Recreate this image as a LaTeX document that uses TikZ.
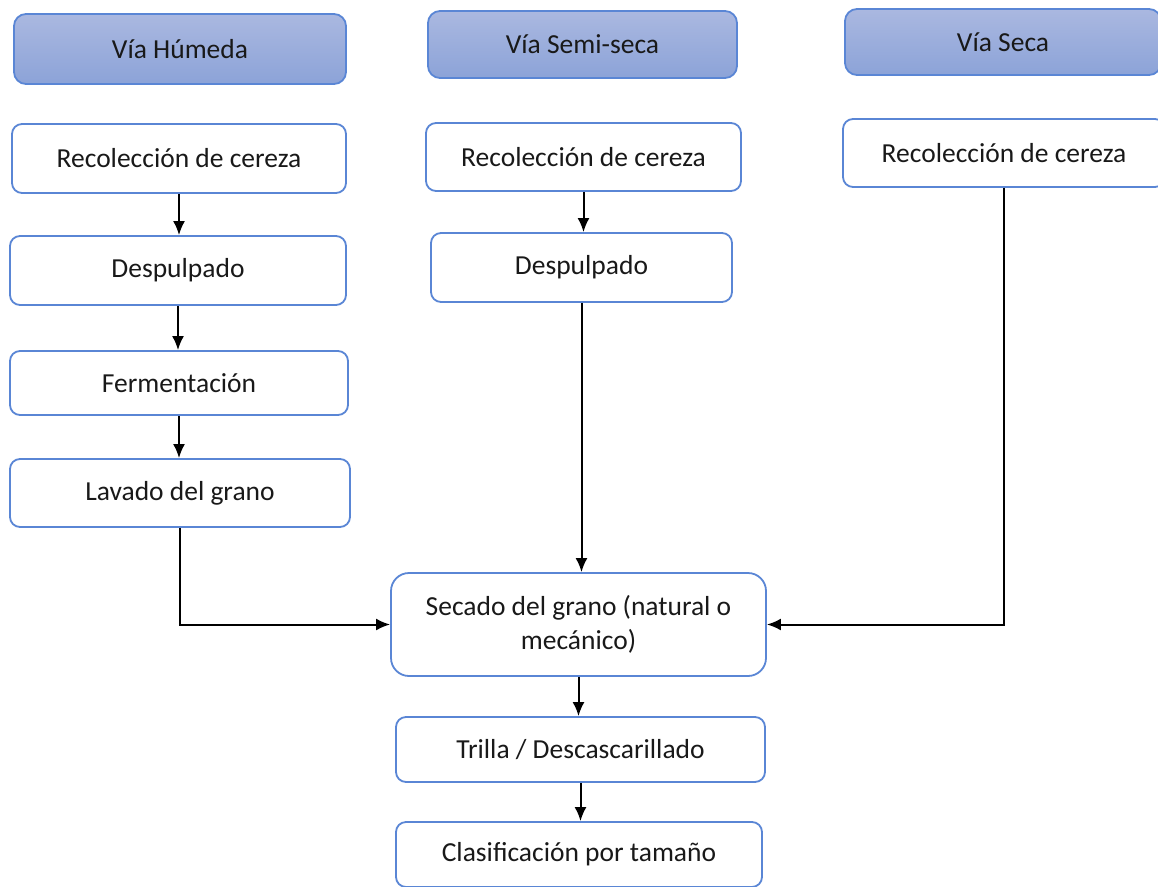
\documentclass[tikz,border=0pt]{standalone}
\usepackage{fontspec}
\setmainfont{Carlito}
\usetikzlibrary{arrows.meta, positioning}
\definecolor{boxblue}{HTML}{5A86D5}
\definecolor{headtop}{HTML}{AAB8E0}
\definecolor{headbot}{HTML}{8CA3D8}
\tikzset{
  paso/.style={draw=boxblue, line width=1.8pt, rounded corners=10pt, fill=white,
    align=center, text=black!90, inner sep=0pt},
  via/.style={paso, top color=headtop, bottom color=headbot, rounded corners=12pt},
}
\begin{document}
\begin{tikzpicture}[x=1pt,y=-1pt,>={Latex[length=14pt,width=12pt]},line width=2pt,
  every node/.style={font=\fontsize{27.5}{34}\selectfont}]
\clip (0,0) rectangle (1158,886);
% encabezados
\node[via, minimum width=332pt, minimum height=70pt] (humeda) at (180,49) {Vía Húmeda};
\node[via, minimum width=309pt, minimum height=67pt] (semiseca) at (582.5,44.5) {Vía Semi-seca};
\node[via, minimum width=316pt, minimum height=66pt] (seca) at (1003,42) {Vía Seca};
% via humeda
\node[paso, minimum width=334pt, minimum height=69pt] (rec1) at (179,158.5) {Recolección de cereza};
\node[paso, minimum width=336pt, minimum height=69pt] (desp1) at (178,270.5) {Despulpado};
\node[paso, minimum width=338pt, minimum height=64pt] (ferm) at (179,383) {Fermentación};
\node[paso, minimum width=340pt, minimum height=68pt] (lav) at (180,493) {Lavado del grano};
% via semi-seca
\node[paso, minimum width=315pt, minimum height=68pt] (rec2) at (583.5,157) {Recolección de cereza};
\node[paso, minimum width=301pt, minimum height=69pt] (desp2) at (581.5,267.5) {Despulpado};
% via seca
\node[paso, minimum width=322pt, minimum height=68pt] (rec3) at (1004,153) {Recolección de cereza};
% comunes
\node[paso, rounded corners=18pt, minimum width=375pt, minimum height=103pt] (sec) at (578.5,624.5)
  {Secado del grano (natural o\\mecánico)};
\node[paso, minimum width=369pt, minimum height=65pt] (tri) at (580.5,749.5) {Trilla / Descascarillado};
\node[paso, minimum width=366pt, minimum height=65pt] (cla) at (579,854.5) {Clasificación por tamaño};
% flechas
\draw[->] (rec1.south) -- (rec1.south |- desp1.north);
\draw[->] (desp1.south) -- (desp1.south |- ferm.north);
\draw[->] (ferm.south) -- (ferm.south |- lav.north);
\draw[->] (lav.south) |- (sec.west);
\draw[->] (rec2.south) -- (rec2.south |- desp2.north);
\draw[->] (desp2.south) -- (desp2.south |- sec.north);
\draw[->] (rec3.south) |- (sec.east);
\draw[->] (sec.south) -- (sec.south |- tri.north);
\draw[->] (tri.south) -- (tri.south |- cla.north);
\end{tikzpicture}
\end{document}
